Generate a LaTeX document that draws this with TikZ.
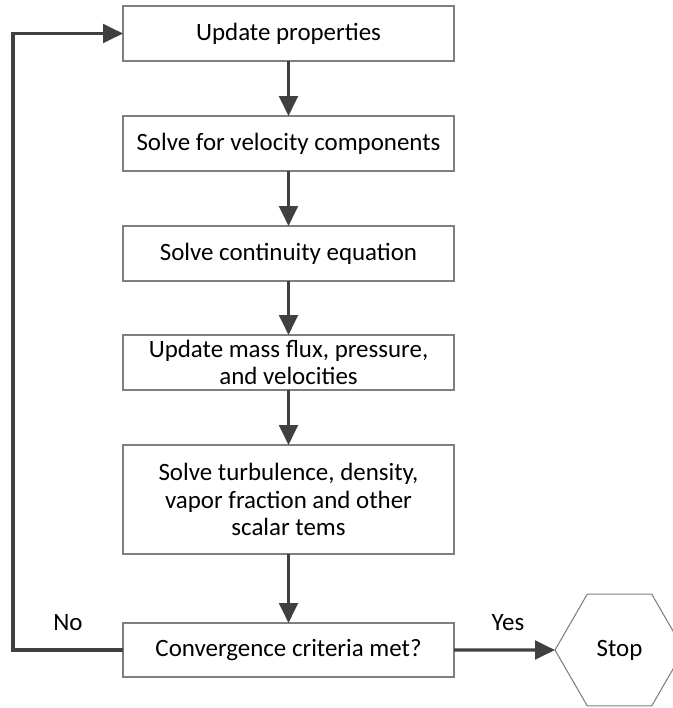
\documentclass[tikz,border=0pt]{standalone}
\usepackage{fontspec}
\setmainfont{Carlito}
\usetikzlibrary{arrows.meta,shapes.geometric}
\definecolor{arr}{HTML}{404040}
\definecolor{bord}{HTML}{7F7F7F}
\tikzset{
  procbox/.style={draw=bord,line width=0.8pt,fill=white,minimum width=331*0.75pt,inner sep=0pt,outer sep=0pt,align=center,font=\fontsize{18.7pt}{20.4pt}\selectfont},
  flow/.style={draw=arr,line width=2.3pt,-{Triangle[length=15pt,width=14pt]}},
  lbl/.style={font=\fontsize{18.7pt}{20.4pt}\selectfont,inner sep=0pt}
}
\begin{document}
\begin{tikzpicture}[x=0.75pt,y=-0.75pt]
\useasboundingbox (0,0) rectangle (673,708);
\clip (0,0) rectangle (673,708);
\node[procbox,minimum height=55*0.75pt] (b1) at (288.5,33.5) {Update properties};
\node[procbox,minimum height=55*0.75pt] (b2) at (288.5,143.5) {Solve for velocity components};
\node[procbox,minimum height=55*0.75pt] (b3) at (288.5,253.5) {Solve continuity equation};
\node[procbox,minimum height=55*0.75pt] (b4) at (288.5,362.5) {Update mass flux, pressure,\\and velocities};
\node[procbox,minimum height=109*0.75pt] (b5) at (288.5,499.5) {Solve turbulence, density,\\vapor fraction and other\\scalar tems};
\node[procbox,minimum height=54*0.75pt] (b6) at (288.5,650) {Convergence criteria met?};
\node[draw=bord,line width=0.8pt,regular polygon,regular polygon sides=6,minimum size=129*0.75pt,inner sep=0pt,outer sep=0pt,font=\fontsize{18.7pt}{20.4pt}\selectfont] (stop) at (619.5,650) {Stop};
\coordinate (lb) at (13,650);
\coordinate (lt) at (13,33.5);
\draw[flow] (b1) -- (b2);
\draw[flow] (b2) -- (b3);
\draw[flow] (b3) -- (b4);
\draw[flow] (b4) -- (b5);
\draw[flow] (b5) -- (b6);
\draw[flow] (b6) -- (stop);
\draw[flow] (b6.west) -- (lb) -- (lt) -- (b1.west);
\node[lbl] (no) at (68,623) {No};
\node[lbl] (yes) at (508,623) {Yes};
\end{tikzpicture}
\end{document}
